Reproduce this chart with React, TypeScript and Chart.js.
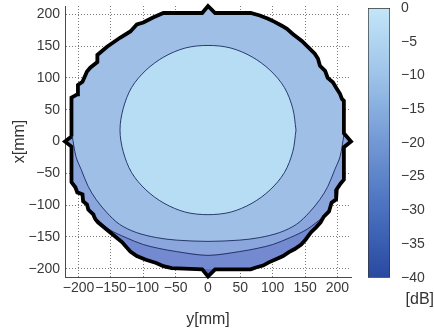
import { useEffect, useRef } from "react";
import { Chart, registerables } from "chart.js";

Chart.register(...registerables);

// Axis ticks (mm) and colour-bar ticks (dB)
const axisTicks = [-200, -150, -100, -50, 0, 50, 100, 150, 200];
const levelTicks = [0, -5, -10, -15, -20, -25, -30, -35, -40];
const levelRange: [number, number] = [-40, 0];

// Colour-bar stops from 0 dB (top) to -40 dB (bottom)
const colorbarColors = ["#c3e6f8", "#9dc3e9", "#7298d4", "#4a70bf", "#2849a1"];

// Fill colours of the contour bands
const band0 = "#b6ddf3"; // 0 .. -5 dB
const band5 = "#9fbfe7"; // -5 .. -10 dB
const band10 = "#8ba5dd"; // -10 .. -15 dB
const band15 = "#7389d0"; // -15 .. -20 dB
const band20 = "#566bbd"; // below -20 dB
const contourColor = "#1b2a5e";

type P = [number, number]; // [y (horizontal), x (vertical)] in mm

// Rim of the measured area, clockwise, split where contours meet it
const rimUpper: P[] = [
  [-211, 8], [-211, 69], [-202, 74], [-201, 89], [-194, 94], [-187, 110],
  [-182, 116], [-171, 125], [-171, 136], [-156, 149], [-136, 163], [-120, 173],
  [-110, 184], [-100, 187], [-85, 195], [-69, 202], [-9, 202], [0, 213],
  [11, 202], [66, 202], [80, 198], [93, 193], [103, 188], [114, 182],
  [122, 177], [131, 169], [145, 158], [154, 149], [165, 138], [170, 130],
  [173, 119], [181, 111], [185, 100], [193, 93], [199, 83], [204, 75],
  [207, 67], [210, 64], [210, 13],
];
const notchRight: P[] = [[221, 0]];
const rimRightLower: P[] = [
  [210, -9], [210, -60], [205, -66], [199, -75], [198, -91], [191, -96],
  [187, -110], [179, -118],
];
const rimBottom: P[] = [
  [174, -127], [167, -135], [159, -143], [151, -154], [144, -162], [134, -169],
  [125, -174], [116, -180], [105, -185], [94, -190], [85, -195], [74, -198],
  [66, -201], [11, -201], [0, -212], [-9, -201], [-56, -199], [-69, -196],
  [-80, -191], [-96, -186], [-110, -180], [-120, -173], [-133, -158],
  [-151, -143], [-170, -127], [-174, -122],
];
const rimLeftLower: P[] = [
  [-176, -118], [-177, -115], [-185, -107], [-187, -99], [-193, -94],
  [-194, -83], [-202, -80], [-205, -72], [-211, -64], [-211, -8],
];
const notchLeft: P[] = [[-221, 0]];
const notchBottom: P[] = [[11, -201], [0, -212], [-9, -201], [11, -201]];

// -5 dB contour (closed)
const contour5: P[] = [
  [136, 18], [131, 52], [118, 85], [96, 112], [68, 133], [35, 147],
  [0, 151], [-35, 147], [-68, 133], [-96, 112], [-118, 85], [-131, 52],
  [-136, 18], [-131, -16], [-118, -49], [-96, -76], [-68, -97], [-35, -111],
  [0, -115], [35, -111], [68, -97], [96, -76], [118, -49], [131, -16],
  [136, 18],
];
// -10 dB contour (left rim to right rim)
const contour10: P[] = [
  [-210, 10], [-204, -24], [-196, -44], [-185, -71], [-173, -91], [-157, -111],
  [-137, -130], [-111, -143], [-80, -151], [-49, -155], [0, -157], [49, -155],
  [80, -151], [111, -143], [137, -130], [157, -111], [173, -91], [185, -71],
  [196, -44], [204, -24], [210, 10],
];
// -15 dB contour (left rim to right rim)
const contour15: P[] = [
  [-176, -118], [-153, -138], [-127, -151], [-100, -162], [-76, -168],
  [-49, -173], [0, -179], [49, -173], [76, -168], [100, -162], [127, -151],
  [153, -138], [179, -118],
];

const outline: P[] = [
  ...rimUpper, ...notchRight, ...rimRightLower, ...rimBottom,
  ...rimLeftLower, ...notchLeft, rimUpper[0],
];
const region10: P[] = [
  ...contour10, ...notchRight, ...rimRightLower, ...rimBottom,
  ...rimLeftLower, ...notchLeft, contour10[0],
];
const region15: P[] = [...contour15, ...rimBottom, contour15[0]];

const pts = (list: P[]) => list.map(([h, v]) => ({ x: h, y: v }));

const fontFamily = "'Liberation Sans', Arial, sans-serif";
const textColor = "#3a3a3a";
const fmt = (v: number | string) => {
  const n = Number(v);
  return n < 0 ? "\u2212" + Math.abs(n) : String(n);
};

const clear = "rgba(0,0,0,0)";

// Keep the plot area fixed regardless of tick label overhang
const noOverhang = (s: any) => {
  s.paddingTop = 0;
  s.paddingBottom = 0;
  s.paddingLeft = 0;
  s.paddingRight = 0;
};

export default function App() {
  const mainRef = useRef<HTMLCanvasElement>(null);
  const barRef = useRef<HTMLCanvasElement>(null);

  useEffect(() => {
    document.body.style.margin = "0";
    const lineBase = { showLine: true, pointRadius: 0, pointHoverRadius: 0 };

    const main = new Chart(mainRef.current!, {
      type: "scatter",
      data: {
        datasets: [
          { ...lineBase, data: pts(outline), borderColor: "#000", borderWidth: 3.8, fill: false, tension: 0, clip: false },
          { ...lineBase, data: pts(contour5), borderColor: contourColor, borderWidth: 0.9, backgroundColor: band0, fill: "shape", tension: 0.33 },
          { ...lineBase, data: pts(contour10), borderColor: contourColor, borderWidth: 0.9, fill: false, tension: 0.33 },
          { ...lineBase, data: pts(contour15), borderColor: contourColor, borderWidth: 0.9, fill: false, tension: 0.33 },
          { ...lineBase, data: pts(notchBottom), borderColor: clear, borderWidth: 0, backgroundColor: band20, fill: "shape", tension: 0 },
          { ...lineBase, data: pts(region15), borderColor: clear, borderWidth: 0, backgroundColor: band15, fill: "shape", tension: 0 },
          { ...lineBase, data: pts(region10), borderColor: clear, borderWidth: 0, backgroundColor: band10, fill: "shape", tension: 0 },
          { ...lineBase, data: pts(outline), borderColor: clear, borderWidth: 0, backgroundColor: band5, fill: "shape", tension: 0 },
        ] as any,
      },
      options: {
        responsive: false,
        animation: false,
        events: [],
        layout: { padding: { left: 0, right: 9, top: 6, bottom: 0 } },
        plugins: { legend: { display: false }, tooltip: { enabled: false } },
        scales: {
          x: {
            type: "linear",
            min: -221,
            max: 221,
            afterBuildTicks: (s: any) => { s.ticks = axisTicks.map((v) => ({ value: v })); },
            afterFit: (s: any) => { s.height = 58; noOverhang(s); },
            grid: { color: "#7a7a7a", lineWidth: 1, drawTicks: false },
            border: { display: true, color: "#4a4a4a", width: 1, dash: [1, 2] },
            ticks: { autoSkip: false, maxRotation: 0, padding: 3, color: textColor, font: { family: fontFamily, size: 14 }, callback: fmt },
            title: { display: true, text: "y[mm]", color: "#333", font: { family: fontFamily, size: 16 }, padding: { top: 0, bottom: 6 } },
          },
          y: {
            type: "linear",
            min: -213,
            max: 213,
            afterBuildTicks: (s: any) => { s.ticks = axisTicks.map((v) => ({ value: v })); },
            afterFit: (s: any) => { s.width = 65; noOverhang(s); },
            grid: { color: "#7a7a7a", lineWidth: 1, drawTicks: false },
            border: { display: true, color: "#4a4a4a", width: 1, dash: [1, 2] },
            ticks: { autoSkip: false, padding: 5, color: textColor, font: { family: fontFamily, size: 14 }, callback: fmt },
            title: { display: true, text: "x[mm]", color: "#333", font: { family: fontFamily, size: 16 }, padding: { top: 10, bottom: 0 } },
          },
        },
      } as any,
    });

    const bar = new Chart(barRef.current!, {
      type: "bar",
      data: {
        labels: ["dB"],
        datasets: [
          {
            data: [levelRange] as any,
            backgroundColor: (ctx: any) => {
              const area = ctx.chart.chartArea;
              if (!area) return colorbarColors[0];
              const g = ctx.chart.ctx.createLinearGradient(0, area.top, 0, area.bottom);
              colorbarColors.forEach((c, i) => g.addColorStop(i / (colorbarColors.length - 1), c));
              return g;
            },
            borderColor: "#333",
            borderWidth: 1,
            borderSkipped: false,
            barPercentage: 1,
            categoryPercentage: 1,
          },
        ],
      },
      options: {
        responsive: false,
        animation: false,
        events: [],
        layout: { padding: { left: 8, right: 0, top: 8, bottom: 0 } },
        plugins: {
          legend: { display: false },
          tooltip: { enabled: false },
          title: {
            display: true,
            text: "[dB]",
            position: "bottom",
            align: "end",
            color: "#333",
            font: { family: fontFamily, size: 16, weight: "normal" },
            padding: { top: 12, bottom: 26 },
          },
        },
        scales: {
          x: { display: false },
          y: {
            position: "right",
            min: levelRange[0],
            max: levelRange[1],
            afterBuildTicks: (s: any) => { s.ticks = levelTicks.map((v) => ({ value: v })); },
            afterFit: (s: any) => { s.width = 44; noOverhang(s); },
            grid: { display: false },
            border: { display: false },
            ticks: { padding: 3, color: textColor, font: { family: fontFamily, size: 14 }, callback: fmt },
          },
        },
      } as any,
    });

    return () => {
      main.destroy();
      bar.destroy();
    };
  }, []);

  return (
    <div style={{ position: "fixed", left: 0, top: 0, width: 434, height: 335, background: "#fff" }}>
      <canvas ref={mainRef} width={360} height={335} style={{ position: "absolute", left: 0, top: 0 }} />
      <canvas ref={barRef} width={74} height={335} style={{ position: "absolute", left: 360, top: 0 }} />
    </div>
  );
}
